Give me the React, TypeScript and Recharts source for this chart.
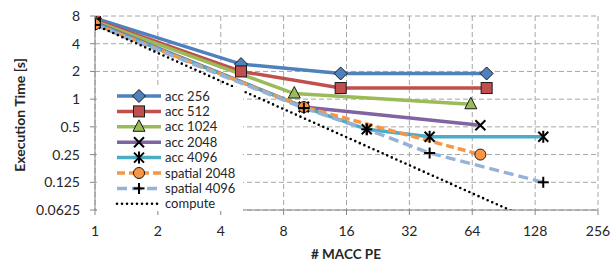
import { LineChart, Line, XAxis, YAxis, CartesianGrid, Legend, Label } from 'recharts';

const xTicks = [1, 2, 4, 8, 16, 32, 64, 128, 256];
const yTicks = [0.0625, 0.125, 0.25, 0.5, 1, 2, 4, 8];

const acc256X = [1, 5, 15, 75];
const acc256Y = [7.6, 2.4, 1.9, 1.9];
const acc512X = [1, 5, 15, 75];
const acc512Y = [7.2, 2.0, 1.32, 1.32];
const acc1024X = [1, 9, 63];
const acc1024Y = [7.0, 1.15, 0.88];
const acc2048X = [1, 10, 70];
const acc2048Y = [6.8, 0.82, 0.52];
const acc4096X = [1, 10, 20, 40, 140];
const acc4096Y = [6.6, 0.82, 0.47, 0.39, 0.39];
const spatial2048X = [1, 10, 70];
const spatial2048Y = [6.5, 0.82, 0.25];
const spatial4096X = [1, 10, 20, 40, 140];
const spatial4096Y = [6.4, 0.8, 0.47, 0.26, 0.125];
const computeX = [1, 128];
const computeY = [6.4, 0.047];

const FONT = 'Lato, "Open Sans", sans-serif';
const TEXT = '#262626';

type Marker = 'diamond' | 'square' | 'triangle' | 'x' | 'star' | 'circle' | 'plus' | 'none';

interface Series {
  name: string;
  xs: number[];
  ys: number[];
  color: string;
  marker: Marker;
  dash?: string;
  width: number;
}

const series: Series[] = [
  { name: 'acc 256', xs: acc256X, ys: acc256Y, color: '#4f81bd', marker: 'diamond', width: 3.5 },
  { name: 'acc 512', xs: acc512X, ys: acc512Y, color: '#c0504d', marker: 'square', width: 3.5 },
  { name: 'acc 1024', xs: acc1024X, ys: acc1024Y, color: '#9bbb59', marker: 'triangle', width: 3.5 },
  { name: 'acc 2048', xs: acc2048X, ys: acc2048Y, color: '#8064a2', marker: 'x', width: 3.5 },
  { name: 'acc 4096', xs: acc4096X, ys: acc4096Y, color: '#4bacc6', marker: 'star', width: 3.5 },
  { name: 'spatial 2048', xs: spatial2048X, ys: spatial2048Y, color: '#f79646', marker: 'circle', dash: '8 4', width: 3.5 },
  { name: 'spatial 4096', xs: spatial4096X, ys: spatial4096Y, color: '#95b3d7', marker: 'plus', dash: '10 5', width: 3.5 },
  { name: 'compute', xs: computeX, ys: computeY, color: '#000', marker: 'none', dash: '0 5', width: 2.6 },
];

function MarkerShape({ kind, cx, cy, color }: { kind: Marker; cx: number; cy: number; color: string }) {
  const edge = '#1a1a1a';
  switch (kind) {
    case 'diamond':
      return <polygon points={`${cx},${cy - 6.5} ${cx + 6.5},${cy} ${cx},${cy + 6.5} ${cx - 6.5},${cy}`} fill={color} stroke={edge} strokeWidth={1} />;
    case 'square':
      return <rect x={cx - 5.5} y={cy - 5.5} width={11} height={11} fill={color} stroke={edge} strokeWidth={1} />;
    case 'triangle':
      return <polygon points={`${cx},${cy - 7} ${cx + 6},${cy + 4.5} ${cx - 6},${cy + 4.5}`} fill={color} stroke={edge} strokeWidth={1} />;
    case 'circle':
      return <circle cx={cx} cy={cy} r={5.5} fill={color} stroke={edge} strokeWidth={1} />;
    case 'x':
      return (
        <g stroke="#000" strokeWidth={2}>
          <line x1={cx - 5} y1={cy - 5} x2={cx + 5} y2={cy + 5} />
          <line x1={cx - 5} y1={cy + 5} x2={cx + 5} y2={cy - 5} />
        </g>
      );
    case 'star':
      return (
        <g stroke="#000" strokeWidth={2}>
          <line x1={cx - 5} y1={cy - 5} x2={cx + 5} y2={cy + 5} />
          <line x1={cx - 5} y1={cy + 5} x2={cx + 5} y2={cy - 5} />
          <line x1={cx} y1={cy - 6} x2={cx} y2={cy + 6} />
        </g>
      );
    case 'plus':
      return (
        <g stroke="#000" strokeWidth={2}>
          <line x1={cx - 5.5} y1={cy} x2={cx + 5.5} y2={cy} />
          <line x1={cx} y1={cy - 5.5} x2={cx} y2={cy + 5.5} />
        </g>
      );
    default:
      return null;
  }
}

function LegendBox() {
  const rowH = 15.4;
  return (
    <svg width={146} height={124} style={{ display: 'block', background: '#fff' }}>
      {series.map((s, i) => {
        const y = 9 + i * rowH;
        return (
          <g key={s.name}>
            <line
              x1={20}
              x2={64}
              y1={y}
              y2={y}
              stroke={s.color}
              strokeWidth={s.width}
              strokeDasharray={s.dash}
              strokeLinecap={s.marker === 'none' ? 'round' : 'butt'}
            />
            <MarkerShape kind={s.marker} cx={42} cy={y} color={s.color} />
            <text x={68} y={y + 4.5} fontSize={13} fill={TEXT} fontFamily={FONT}>
              {s.name}
            </text>
          </g>
        );
      })}
    </svg>
  );
}

export default function App() {
  return (
    <div style={{ position: 'absolute', left: 0, top: 0, width: 613, height: 263, background: '#fff', fontFamily: FONT }}>
      <LineChart width={613} height={263} margin={{ top: 16, right: 15, left: 0, bottom: 0 }}>
        <CartesianGrid strokeDasharray="5 3" stroke="#a6a6a6" strokeWidth={1} />
        <XAxis
          dataKey="x"
          type="number"
          scale="log"
          domain={[1, 256]}
          ticks={xTicks}
          allowDataOverflow
          height={53}
          stroke="#868686"
          tickSize={5}
          tickMargin={11}
          tick={{ fill: TEXT, fontSize: 14, fontFamily: FONT }}
          tickFormatter={(v: number) => String(v)}
        >
          <Label
            content={() => (
              <text x={346} y={259} textAnchor="middle" fontSize={13.5} fontWeight="bold" fill={TEXT} fontFamily={FONT}>
                # MACC PE
              </text>
            )}
          />
        </XAxis>
        <YAxis
          dataKey="y"
          type="number"
          scale="log"
          domain={[0.0625, 8]}
          ticks={yTicks}
          allowDataOverflow
          width={95}
          stroke="#868686"
          tickSize={5}
          tickMargin={10}
          tick={{ fill: TEXT, fontSize: 14, fontFamily: FONT }}
          tickFormatter={(v: number) => String(v)}
        >
          <Label
            content={() => (
              <text
                x={19}
                y={115}
                transform="rotate(-90 19 115)"
                textAnchor="middle"
                dominantBaseline="central"
                fontSize={14}
                fontWeight="bold"
                fill={TEXT}
                fontFamily={FONT}
              >
                Execution Time [s]
              </text>
            )}
          />
        </YAxis>
        {series.map((s) => (
          <Line
            key={s.name}
            name={s.name}
            data={s.xs.map((x, i) => ({ x, y: s.ys[i] }))}
            dataKey="y"
            stroke={s.color}
            strokeWidth={s.width}
            strokeDasharray={s.dash}
            strokeLinecap={s.marker === 'none' ? 'round' : 'butt'}
            isAnimationActive={false}
            activeDot={false}
            dot={
              s.marker === 'none'
                ? false
                : (p: any) => <MarkerShape key={`${s.name}-${p.index}`} kind={s.marker} cx={p.cx} cy={p.cy} color={s.color} />
            }
          />
        ))}
        <Legend
          layout="vertical"
          align="center"
          verticalAlign="middle"
          content={() => <LegendBox />}
          wrapperStyle={{ position: 'absolute', left: 97, top: 87, width: 146, height: 124 }}
        />
      </LineChart>
    </div>
  );
}
